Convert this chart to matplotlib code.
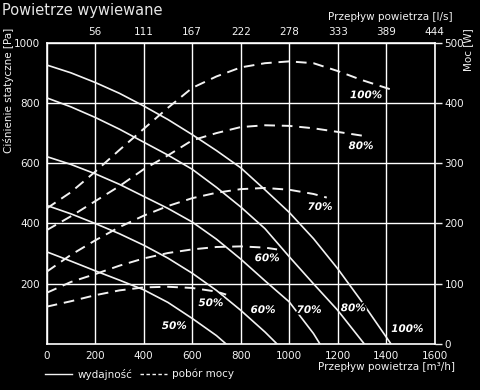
import matplotlib
matplotlib.use("Agg")
import matplotlib.pyplot as plt
import matplotlib.patheffects as pe
from matplotlib.lines import Line2D

# Wydajność (static pressure, Pa) vs airflow (m3/h), per fan speed
flow_100 = [0, 100, 200, 300, 400, 500, 600, 700, 800, 900, 1000, 1100, 1200, 1300, 1420]
pres_100 = [926, 900, 868, 832, 790, 745, 695, 642, 585, 512, 437, 350, 250, 140, 0]
flow_80 = [0, 100, 200, 300, 400, 500, 600, 700, 800, 900, 1000, 1100, 1200, 1310]
pres_80 = [817, 787, 752, 713, 670, 627, 580, 520, 455, 383, 290, 200, 112, 0]
flow_70 = [0, 100, 200, 300, 400, 500, 600, 700, 800, 900, 1000, 1100, 1127]
pres_70 = [622, 596, 565, 530, 490, 450, 405, 348, 282, 210, 140, 35, 0]
flow_60 = [0, 100, 200, 300, 400, 500, 600, 700, 800, 900, 950]
pres_60 = [460, 432, 400, 366, 328, 285, 235, 178, 112, 40, 0]
flow_50 = [0, 100, 200, 300, 400, 500, 600, 700, 740]
pres_50 = [306, 275, 243, 212, 180, 138, 85, 28, 0]

# Pobór mocy (power, W) vs airflow (m3/h)
pflow_100 = [0, 100, 200, 300, 400, 500, 600, 700, 800, 900, 1000, 1100, 1200, 1300, 1430]
power_100 = [225, 252, 286, 322, 357, 392, 425, 444, 459, 466, 469, 466, 453, 438, 421]
pflow_80 = [0, 100, 200, 300, 400, 500, 600, 700, 800, 900, 1000, 1100, 1200, 1313]
power_80 = [189, 212, 237, 262, 290, 313, 338, 350, 360, 363, 362, 358, 352, 345]
pflow_70 = [0, 100, 200, 300, 400, 500, 600, 700, 800, 900, 1000, 1100, 1155]
power_70 = [120, 148, 172, 194, 213, 229, 242, 251, 257, 259, 256, 249, 243]
pflow_60 = [0, 100, 200, 300, 400, 500, 600, 700, 800, 900, 950]
power_60 = [85, 103, 116, 130, 142, 151, 157, 161, 162, 160, 157]
pflow_50 = [0, 100, 200, 300, 400, 500, 600, 700, 740]
power_50 = [62, 71, 81, 89, 94, 95, 93, 87, 82]

x_ticks = [0, 200, 400, 600, 800, 1000, 1200, 1400, 1600]
top_labels = ["", "56", "111", "167", "222", "278", "333", "389", "444"]
y_ticks = [200, 400, 600, 800, 1000]
p_ticks = [0, 100, 200, 300, 400, 500]

solid = [(flow_100, pres_100), (flow_80, pres_80), (flow_70, pres_70),
         (flow_60, pres_60), (flow_50, pres_50)]
dashed = [(pflow_100, power_100), (pflow_80, power_80), (pflow_70, power_70),
          (pflow_60, power_60), (pflow_50, power_50)]

fg = "#f2f2f2"
fig = plt.figure(figsize=(4.8, 3.9), dpi=100, facecolor="black")
ax = fig.add_axes([0.0973, 0.1179, 0.8083, 0.7726])
ax.set_facecolor("black")
ax.set_xlim(0, 1600)
ax.set_ylim(0, 1000)
ax.set_xticks(x_ticks)
ax.set_yticks(y_ticks)
ax.grid(True, color="white", lw=1.0)
ax.set_axisbelow(True)
for s in ax.spines.values():
    s.set_color("white")
    s.set_linewidth(1.2)
ax.tick_params(colors=fg, labelsize=7.5, length=0, pad=5)

for fl, pr in solid:
    ax.plot(fl, pr, color=fg, lw=1.2, zorder=3)

ax2 = ax.twinx()
ax2.set_ylim(0, 500)
ax2.set_yticks(p_ticks)
ax2.tick_params(colors=fg, labelsize=7.5, length=5, width=1, pad=2)
for s in ax2.spines.values():
    s.set_visible(False)
for fl, pw in dashed:
    ax2.plot(fl, pw, color=fg, lw=1.4, dashes=(5.5, 3.5), zorder=3)

ax3 = ax.twiny()
ax3.set_xlim(0, 1600)
ax3.set_xticks(x_ticks)
ax3.set_xticklabels(top_labels)
ax3.tick_params(colors=fg, labelsize=7.5, length=0, pad=4)
for s in ax3.spines.values():
    s.set_visible(False)

# curve labels
lab_kw = dict(color="white", fontsize=7.5, style="italic", fontweight="bold",
              ha="center", va="center", zorder=5,
              path_effects=[pe.withStroke(linewidth=2.5, foreground="black")])
curve_labels = [("100%", 1317, 826), ("80%", 1296, 657), ("70%", 1127, 455),
                ("60%", 909, 285), ("50%", 677, 136), ("50%", 526, 60),
                ("60%", 892, 113), ("70%", 1082, 113), ("80%", 1264, 119),
                ("100%", 1487, 50)]
for t, x, y in curve_labels:
    ax.text(x, y, t, **lab_kw)

fig.text(2 / 480, 1 - 10 / 390, "Powietrze wywiewane", color="#e6e6e6",
         fontsize=10.5, ha="left", va="center")
fig.text(453 / 480, 1 - 17 / 390, "Przepływ powietrza [l/s]", color=fg,
         fontsize=7.5, ha="right", va="center")
fig.text(455 / 480, 1 - 367 / 390, "Przepływ powietrza [m³/h]", color=fg,
         fontsize=7.5, ha="right", va="center")
fig.text(9 / 480, 1 - 90 / 390, "Ciśnienie statyczne [Pa]", color=fg,
         fontsize=7.5, rotation=90, ha="center", va="center")
fig.text(468 / 480, 1 - 50 / 390, "Moc [W]", color=fg,
         fontsize=7.5, rotation=90, ha="center", va="center")

# legend
ly = 1 - 374 / 390
fig.add_artist(Line2D([45 / 480, 72 / 480], [ly, ly], color=fg, lw=1.0))
fig.text(78 / 480, ly, "wydajność", color=fg, fontsize=7.5, ha="left", va="center")
fig.add_artist(Line2D([140 / 480, 167 / 480], [ly, ly], color=fg, lw=1.0,
                      dashes=(2.5, 1.8)))
fig.text(172 / 480, ly, "pobór mocy", color=fg, fontsize=7.5, ha="left", va="center")

fig.savefig("out.png", dpi=100, facecolor="black")
